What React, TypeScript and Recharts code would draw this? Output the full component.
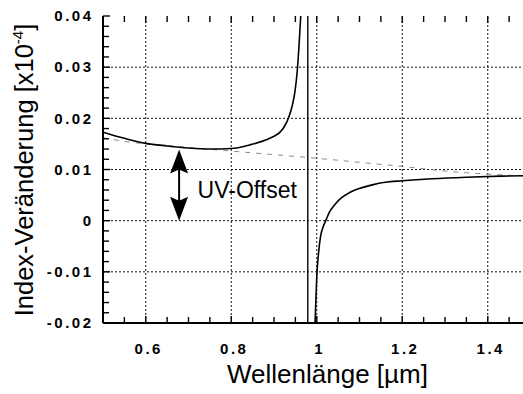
import { LineChart, Line, XAxis, YAxis, ReferenceLine, ReferenceDot } from "recharts";

const FONT = '"Liberation Sans", Arial, Helvetica, sans-serif';

// solid curve, short-wavelength branch (left of the resonance)
const LEFT_WL = [0.5, 0.55, 0.6, 0.65, 0.7, 0.75, 0.8, 0.843, 0.882, 0.9, 0.913, 0.925, 0.935, 0.943, 0.949, 0.954, 0.958, 0.961, 0.964];
const LEFT_DN = [0.0173, 0.0161, 0.0151, 0.0146, 0.0142, 0.014, 0.0141, 0.0148, 0.0158, 0.0165, 0.0172, 0.0185, 0.0203, 0.0226, 0.0252, 0.0289, 0.0335, 0.0378, 0.042];

// solid curve, long-wavelength branch
const RIGHT_WL = [0.996, 0.998, 1.0, 1.004, 1.009, 1.015, 1.021, 1.03, 1.042, 1.054, 1.077, 1.1, 1.13, 1.16, 1.2, 1.27, 1.35, 1.43, 1.5];
const RIGHT_DN = [-0.02, -0.0155, -0.011, -0.0065, -0.003, -0.0012, 0.0, 0.0017, 0.0031, 0.0042, 0.0055, 0.0063, 0.007, 0.0075, 0.0078, 0.0082, 0.0085, 0.0087, 0.0088];

// grey dashed background (UV part)
const BASE_WL = [0.5, 0.55, 0.6, 0.65, 0.7, 0.8, 0.9, 1.0, 1.1, 1.2, 1.3, 1.4, 1.5];
const BASE_DN = [0.0162, 0.0155, 0.015, 0.0147, 0.0143, 0.0136, 0.0129, 0.0122, 0.0114, 0.0106, 0.0097, 0.0091, 0.0087];

const POLE_WL = 0.979;
const POLE_DN = [0.04, -0.02];

const X_MIN = 0.5;
const X_MAX = 1.5;
const Y_MIN = -0.02;
const Y_MAX = 0.04;

const X_LABELS = [0.6, 0.8, 1, 1.2, 1.4];
const Y_LABELS = [-0.02, -0.01, 0, 0.01, 0.02, 0.03, 0.04];

const ARROW_WL = 0.678;
const ARROW_FROM = 0;
const ARROW_TO = 0.0139;
const ARROW_TEXT = "UV-Offset";

const X_TICKS = Array.from({ length: 21 }, (_, i) => Math.round((X_MIN + i * 0.05) * 100) / 100);
const Y_TICKS = Array.from({ length: 31 }, (_, i) => Math.round((Y_MIN + i * 0.002) * 1000) / 1000);

const zip = (xs: number[], ys: number[]) => xs.map((x, i) => ({ x, y: ys[i] }));

const leftData = zip(LEFT_WL, LEFT_DN);
const rightData = zip(RIGHT_WL, RIGHT_DN);
const baseData = zip(BASE_WL, BASE_DN);
const poleData = POLE_DN.map((y) => ({ x: POLE_WL, y }));

const isMajor = (list: number[], v: number) => list.some((m) => Math.abs(m - v) < 1e-9);

const labelStyle = { fontFamily: FONT, fontSize: 15, fontWeight: 700, letterSpacing: 2.5, fill: "#000" };

function BottomLabel({ x, y, payload }: any) {
  const v = payload.value;
  if (!isMajor(X_LABELS, v)) return <g />;
  return (
    <text x={x + 3} y={y + 31} textAnchor="middle" style={labelStyle}>
      {String(v)}
    </text>
  );
}

function LeftLabel({ x, y, payload }: any) {
  const v = payload.value;
  if (!isMajor(Y_LABELS, v)) return <g />;
  return (
    <text x={x - 9.5} y={y + 5.3} textAnchor="end" style={labelStyle}>
      {String(v)}
    </text>
  );
}

// inward tick marks, drawn at the data position of each tick
const tickMark = (dx: number, dy: number) => ({ cx, cy }: any) => (
  <path d={`M${cx},${cy}l${dx},${dy}`} stroke="#000" strokeWidth={1.4} fill="none" />
);

const upHead = ({ cx, cy }: any) => (
  <path d={`M${cx},${cy} L${cx - 9},${cy + 24} L${cx},${cy + 20} L${cx + 9},${cy + 24} Z`} fill="#000" />
);
const downHead = ({ cx, cy }: any) => (
  <path d={`M${cx},${cy} L${cx - 9},${cy - 24} L${cx},${cy - 20} L${cx + 9},${cy - 24} Z`} fill="#000" />
);
const offsetText = ({ cx, cy }: any) => (
  <text x={cx + 18.5} y={cy + 8} style={{ fontFamily: FONT, fontSize: 23, fill: "#000" }}>
    {ARROW_TEXT}
  </text>
);

const gridStyle = { stroke: "#111", strokeWidth: 1, strokeDasharray: "2 2" };

export default function App() {
  return (
    <div style={{ position: "fixed", left: 0, top: 0, width: 523, height: 394, overflow: "hidden", background: "#fff" }}>
      <LineChart width={540} height={394} margin={{ top: 16, right: 9.5, bottom: 0, left: 0 }}>
        {X_LABELS.map((v) => (
          <ReferenceLine key={"gx" + v} x={v} {...gridStyle} />
        ))}
        {Y_LABELS.filter((v) => v > Y_MIN && v < Y_MAX).map((v) => (
          <ReferenceLine key={"gy" + v} y={v} {...gridStyle} />
        ))}

        <Line
          data={baseData}
          dataKey="y"
          type="monotone"
          stroke="#8a8a8a"
          strokeWidth={1}
          strokeDasharray="5 6"
          dot={false}
          isAnimationActive={false}
        />
        <Line data={leftData} dataKey="y" type="monotone" stroke="#000" strokeWidth={1.6} dot={false} isAnimationActive={false} />
        <Line data={poleData} dataKey="y" type="linear" stroke="#000" strokeWidth={1.4} dot={false} isAnimationActive={false} />
        <Line data={rightData} dataKey="y" type="monotone" stroke="#000" strokeWidth={1.6} dot={false} isAnimationActive={false} />

        <ReferenceLine
          segment={[
            { x: ARROW_WL, y: ARROW_FROM + 0.003 },
            { x: ARROW_WL, y: ARROW_TO - 0.003 },
          ]}
          stroke="#000"
          strokeWidth={2}
        />
        <ReferenceDot x={ARROW_WL} y={ARROW_TO} r={0} shape={upHead} />
        <ReferenceDot x={ARROW_WL} y={ARROW_FROM} r={0} shape={downHead} />
        <ReferenceDot x={ARROW_WL} y={0.0059} r={0} shape={offsetText} />

        {X_TICKS.map((v) => (
          <ReferenceDot key={"tb" + v} x={v} y={Y_MIN} r={0} ifOverflow="visible" shape={tickMark(0, isMajor(X_LABELS, v) ? -7 : -6)} />
        ))}
        {X_TICKS.map((v) => (
          <ReferenceDot key={"tt" + v} x={v} y={Y_MAX} r={0} ifOverflow="visible" shape={tickMark(0, isMajor(X_LABELS, v) ? 7 : 6)} />
        ))}
        {Y_TICKS.map((v) => (
          <ReferenceDot key={"tl" + v} x={X_MIN} y={v} r={0} ifOverflow="visible" shape={tickMark(isMajor(Y_LABELS, v) ? 7 : 6, 0)} />
        ))}

        <XAxis
          type="number"
          dataKey="x"
          domain={[X_MIN, X_MAX]}
          allowDataOverflow
          ticks={X_TICKS}
          interval={0}
          tick={BottomLabel}
          tickLine={false}
          tickSize={0}
          tickMargin={0}
          height={71}
          axisLine={{ stroke: "#000", strokeWidth: 2 }}
        />
        <XAxis
          xAxisId="top"
          orientation="top"
          type="number"
          dataKey="x"
          domain={[X_MIN, X_MAX]}
          allowDataOverflow
          tick={false}
          tickLine={false}
          height={0}
          axisLine={{ stroke: "#000", strokeWidth: 2 }}
        />
        <YAxis
          type="number"
          domain={[Y_MIN, Y_MAX]}
          allowDataOverflow
          ticks={Y_TICKS}
          interval={0}
          tick={LeftLabel}
          tickLine={false}
          tickSize={0}
          tickMargin={0}
          width={103}
          axisLine={{ stroke: "#000", strokeWidth: 2 }}
        />
      </LineChart>

      <svg width={523} height={394} style={{ position: "absolute", left: 0, top: 0, pointerEvents: "none" }}>
        <text x={327.5} y={383} textAnchor="middle" style={{ fontFamily: FONT, fontSize: 26, fill: "#000" }}>
          Wellenlänge [µm]
        </text>
        <text
          x={33}
          y={170}
          textAnchor="middle"
          transform="rotate(-90 33 170)"
          style={{ fontFamily: FONT, fontSize: 25.5, fill: "#000" }}
        >
          Index-Veränderung [x10
          <tspan fontSize={15} dy={-10}>
            -4
          </tspan>
          <tspan dy={10}>]</tspan>
        </text>
      </svg>
    </div>
  );
}
